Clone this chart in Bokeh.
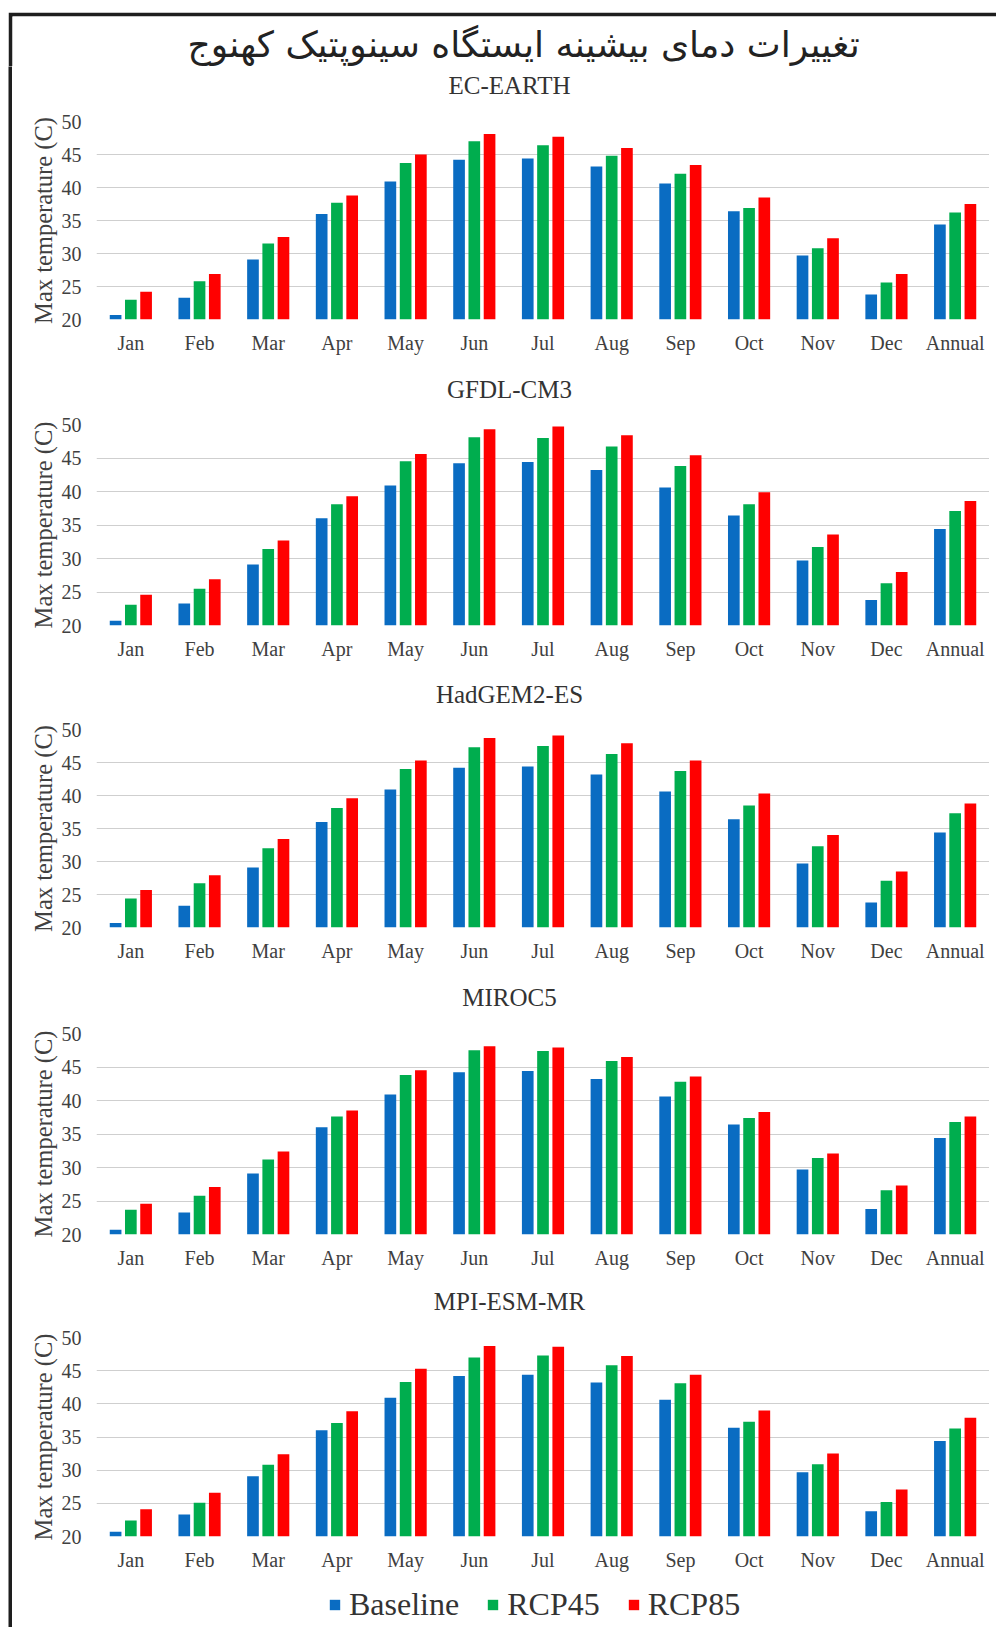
from bokeh.plotting import figure
from bokeh.layouts import column, row
from bokeh.models import (ColumnDataSource, Range1d, FactorRange, FixedTicker, Label,
                          Legend, LegendItem)
from bokeh.transform import dodge
from bokeh.embed import file_html
from bokeh.resources import INLINE

# ---------------- data ----------------
months = ["Jan", "Feb", "Mar", "Apr", "May", "Jun", "Jul", "Aug", "Sep", "Oct", "Nov", "Dec", "Annual"]
y_ticks = [20, 25, 30, 35, 40, 45, 50]
series_names = ["Baseline", "RCP45", "RCP85"]
model_names = ["EC-EARTH", "GFDL-CM3", "HadGEM2-ES", "MIROC5", "MPI-ESM-MR"]
main_title = "تغییرات دمای بیشینه ایستگاه سینوپتیک کهنوج"
y_label = "Max temperature (C)"

baseline = [20.7, 23.3, 29.1, 36.0, 40.9, 44.2, 44.4, 43.2, 40.6, 36.4, 29.7, 23.8, 34.4]

ec_earth_rcp45 = [23.0, 25.8, 31.5, 37.7, 43.7, 47.0, 46.4, 44.8, 42.1, 36.9, 30.8, 25.6, 36.2]
ec_earth_rcp85 = [24.2, 26.9, 32.5, 38.8, 45.0, 48.1, 47.7, 46.0, 43.4, 38.5, 32.3, 26.9, 37.5]

gfdl_cm3_rcp45 = [23.1, 25.5, 31.4, 38.1, 44.5, 48.1, 48.0, 46.7, 43.8, 38.1, 31.7, 26.3, 37.1]
gfdl_cm3_rcp85 = [24.6, 26.9, 32.7, 39.3, 45.6, 49.3, 49.7, 48.4, 45.4, 39.9, 33.6, 28.0, 38.6]

hadgem2_es_rcp45 = [24.4, 26.7, 32.0, 38.1, 44.0, 47.3, 47.5, 46.3, 43.7, 38.5, 32.3, 27.1, 37.3]
hadgem2_es_rcp85 = [25.7, 27.9, 33.4, 39.6, 45.3, 48.7, 49.1, 47.9, 45.3, 40.3, 34.0, 28.5, 38.8]

miroc5_rcp45 = [23.7, 25.8, 31.2, 37.6, 43.8, 47.5, 47.4, 45.9, 42.8, 37.4, 31.4, 26.6, 36.8]
miroc5_rcp85 = [24.6, 27.1, 32.4, 38.5, 44.5, 48.1, 47.9, 46.5, 43.6, 38.3, 32.1, 27.3, 37.6]

mpi_esm_mr_rcp45 = [22.4, 25.1, 30.8, 37.1, 43.3, 47.0, 47.3, 45.8, 43.1, 37.3, 30.9, 25.2, 36.3]
mpi_esm_mr_rcp85 = [24.1, 26.6, 32.4, 38.9, 45.3, 48.7, 48.6, 47.2, 44.4, 39.0, 32.5, 27.1, 37.9]

rcp45_by_model = [ec_earth_rcp45, gfdl_cm3_rcp45, hadgem2_es_rcp45, miroc5_rcp45, mpi_esm_mr_rcp45]
rcp85_by_model = [ec_earth_rcp85, gfdl_cm3_rcp85, hadgem2_es_rcp85, miroc5_rcp85, mpi_esm_mr_rcp85]

# ---------------- style / layout ----------------
BLUE = "#0A6CC2"
GREEN = "#00AD4E"
RED = "#FF0000"
FRAME_COL = "#1E1E1E"
TEXT_COL = "#333333"
TICK_COL = "#404040"
GRID_COL = "#CFCFCF"
SERIF = "Liberation Serif"

CONTENT_W = 977
LEFT_BORDER = 84
BAR_W = 0.17
OFFSET = 0.222
# page geometry of each panel:
# (strip top, y=50 line, y=20 line, figure bottom, title centre)
panel_geom = [
    (66, 121, 319, 366, 85),
    (366, 424, 625, 673, 389),
    (673, 729, 927, 975, 694),
    (975, 1033, 1234, 1280, 997),
    (1280, 1337, 1536, 1581, 1301),
]
LEGEND_BOTTOM = 1627
TOP_PAD = 14  # border above the y=50 grid line inside a bar figure


def plain_fig(w, h, **kw):
    f = figure(width=w, height=h, x_axis_type=None, y_axis_type=None,
               output_backend="svg", toolbar_location=None, outline_line_color=None, **kw)
    f.grid.visible = False
    return f


def title_strip(name, geom):
    # the column aligns this strip's frame with the bar panels' frames (left edge at page x=96)
    top, l50, l20, bottom, ty = geom
    strip_bottom = l50 - TOP_PAD
    s = plain_fig(CONTENT_W, strip_bottom - top, x_range=Range1d(0, 1), y_range=Range1d(0, 1),
                  min_border_left=LEFT_BORDER, min_border_right=0,
                  min_border_top=0, min_border_bottom=0,
                  background_fill_color="white", border_fill_color="white")
    s.add_layout(Label(x=413, y=strip_bottom - ty, x_units="screen", y_units="screen",
                       text=name, text_align="center", text_baseline="middle",
                       text_font=SERIF, text_font_size="25px", text_color=TEXT_COL))
    return s


def add_bars(p, src):
    rb = p.vbar(x=dodge("month", -OFFSET, range=p.x_range), top="base", bottom=20,
                width=BAR_W, fill_color=BLUE, line_color=None, source=src)
    rg = p.vbar(x=dodge("month", 0.0, range=p.x_range), top="r45", bottom=20,
                width=BAR_W, fill_color=GREEN, line_color=None, source=src)
    rr = p.vbar(x=dodge("month", OFFSET, range=p.x_range), top="r85", bottom=20,
                width=BAR_W, fill_color=RED, line_color=None, source=src)
    return rb, rg, rr


def bar_panel(r45, r85, geom):
    top, l50, l20, bottom, ty = geom
    fig_top = l50 - TOP_PAD
    src = ColumnDataSource(dict(month=months, base=baseline, r45=r45, r85=r85))
    p = figure(x_range=FactorRange(factors=months), y_range=Range1d(20, 50),
               width=CONTENT_W, height=bottom - fig_top,
               min_border_left=LEFT_BORDER, min_border_right=0,
               min_border_top=TOP_PAD, min_border_bottom=bottom - l20,
               output_backend="svg", toolbar_location=None,
               outline_line_color=None, background_fill_color="white",
               border_fill_color="white")
    add_bars(p, src)
    p.xgrid.grid_line_color = None
    p.ygrid.grid_line_color = GRID_COL
    p.ygrid.grid_line_width = 1.2
    p.yaxis.ticker = FixedTicker(ticks=y_ticks)
    for ax in (p.xaxis[0], p.yaxis[0]):
        ax.axis_line_color = None
        ax.major_tick_out = 0
        ax.major_tick_in = 0
        ax.minor_tick_out = 0
        ax.minor_tick_in = 0
        ax.major_label_text_font = SERIF
        ax.major_label_text_font_size = "20px"
        ax.major_label_text_color = TICK_COL
    p.xaxis.major_label_standoff = 12
    p.yaxis.major_label_standoff = 15
    p.yaxis.axis_label = y_label
    p.yaxis.axis_label_text_font = SERIF
    p.yaxis.axis_label_text_font_size = "24.5px"
    p.yaxis.axis_label_text_font_style = "normal"
    p.yaxis.axis_label_text_color = TICK_COL
    p.yaxis.axis_label_standoff = 2
    return p, src


# title strip: its top/left border area is the black picture frame
title_fig = plain_fig(CONTENT_W + 11, 54, x_range=Range1d(0, 1), y_range=Range1d(0, 1),
                      min_border_top=4, min_border_left=4, min_border_right=0, min_border_bottom=0,
                      background_fill_color="white", border_fill_color=FRAME_COL)
title_fig.add_layout(Label(x=175, y=22, x_units="screen", y_units="screen", text=main_title,
                           text_align="left", text_baseline="middle",
                           text_font="DejaVu Sans", text_font_size="36px",
                           text_color="#222222"))

blocks = []
last_src = None
for i in range(5):
    blocks.append(title_strip(model_names[i], panel_geom[i]))
    p, last_src = bar_panel(rcp45_by_model[i], rcp85_by_model[i], panel_geom[i])
    blocks.append(p)

# legend strip (uses hidden copies of the bar renderers for its keys)
leg_top = panel_geom[-1][3]
leg_fig = plain_fig(CONTENT_W, LEGEND_BOTTOM - leg_top, x_range=FactorRange(factors=months),
                    y_range=Range1d(0, 1),
                    min_border_left=LEFT_BORDER, min_border_right=0,
                    min_border_top=0, min_border_bottom=0,
                    background_fill_color="white", border_fill_color="white")
kb, kg, kr = add_bars(leg_fig, last_src)
for r in (kb, kg, kr):
    r.visible = False
legend = Legend(items=[LegendItem(label=series_names[0], renderers=[kb]),
                       LegendItem(label=series_names[1], renderers=[kg]),
                       LegendItem(label=series_names[2], renderers=[kr])],
                orientation="horizontal", location=(232, 4),
                glyph_width=13, glyph_height=13, label_standoff=8, spacing=27,
                padding=0, margin=0, border_line_color=None,
                background_fill_alpha=0, inactive_fill_alpha=0,
                label_text_font=SERIF, label_text_font_size="32px",
                label_text_color=TEXT_COL)
leg_fig.add_layout(legend)
blocks.append(leg_fig)

panels_h = LEGEND_BOTTOM - panel_geom[0][0]
left_bar = plain_fig(4, panels_h, x_range=Range1d(0, 1), y_range=Range1d(0, 1), min_border=0,
                     background_fill_color=FRAME_COL, border_fill_color=FRAME_COL)

layout = column(title_fig,
                row(left_bar, column(blocks, spacing=0), spacing=0),
                spacing=0, margin=(12, 0, 0, 8))

open("out.html", "w").write(file_html(layout, INLINE))
